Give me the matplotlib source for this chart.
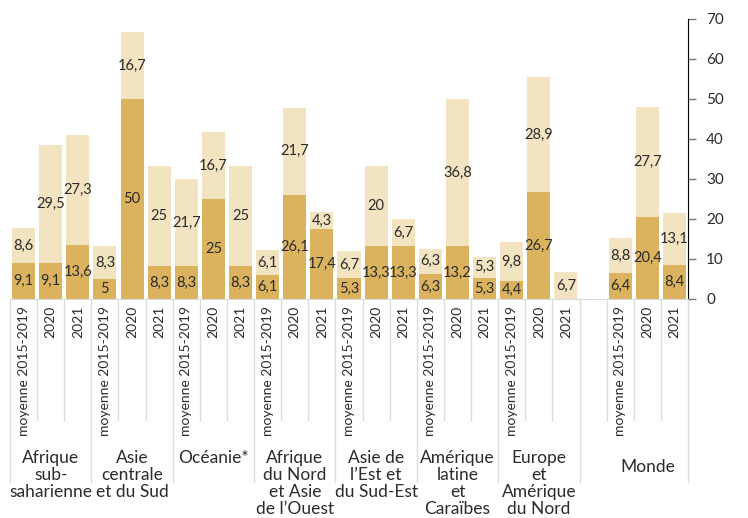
import numpy as np
import matplotlib
matplotlib.use("Agg")
import matplotlib.pyplot as plt
import matplotlib.transforms as mtransforms

##################################################################
########################## DATA ##################################
##################################################################

regions = ["Afrique\nsub-\nsaharienne", "Asie\ncentrale\net du Sud", "Océanie*",
           "Afrique\ndu Nord\net Asie\nde l\u2019Ouest", "Asie de\nl\u2019Est et\ndu Sud-Est",
           "Amérique\nlatine\net\nCaraïbes", "Europe\net\nAmérique\ndu Nord", "Monde"]
periods = ["moyenne 2015-2019", "2020", "2021"]

# dark (bottom) segment, per region: [moyenne, 2020, 2021]
dark_vals = [[9.1, 9.1, 13.6],
             [5, 50, 8.3],
             [8.3, 25, 8.3],
             [6.1, 26.1, 17.4],
             [5.3, 13.3, 13.3],
             [6.3, 13.2, 5.3],
             [4.4, 26.7, 0],
             [6.4, 20.4, 8.4]]
# light (top) segment
light_vals = [[8.6, 29.5, 27.3],
              [8.3, 16.7, 25],
              [21.7, 16.7, 25],
              [6.1, 21.7, 4.3],
              [6.7, 20, 6.7],
              [6.3, 36.8, 5.3],
              [9.8, 28.9, 6.7],
              [8.8, 27.7, 13.1]]

DARK = "#DBB35E"
LIGHT = "#F2E3C1"
TXT = "#2b2b2b"
SEP = "#dcdcdc"
plt.rcParams['font.family'] = ['Lato', 'DejaVu Sans']


def fmt(v):
    if float(v).is_integer():
        return str(int(v))
    return ("%.1f" % v).replace(".", ",")


##################################################################
########################## LAYOUT ################################
##################################################################

# 7 regions back to back, one empty slot, then Monde
slots = []
for g in range(len(regions)):
    start = g * 3 if g < 7 else 22
    slots.append([start, start + 1, start + 2])

fig = plt.figure(figsize=(7.48, 5.18), dpi=100)
W, H = 748, 518
ax_l, ax_r, ax_t, ax_b = 10, 688, 19, 299
ax = fig.add_axes([ax_l / W, (H - ax_b) / H, (ax_r - ax_l) / W, (ax_b - ax_t) / H])

xs, labels = [], []
for g in range(len(regions)):
    x = np.array(slots[g])
    d = np.array(dark_vals[g])
    l = np.array(light_vals[g])
    ax.bar(x, d, width=0.85, color=DARK, zorder=2)
    ax.bar(x, l, width=0.85, bottom=d, color=LIGHT, zorder=2)
    for xi, di, li in zip(x, d, l):
        if di > 0:
            ax.text(xi, di / 2, fmt(di), ha="center", va="center", fontsize=10.5, color=TXT, zorder=3)
        if li > 0:
            ax.text(xi, di + li / 2, fmt(li), ha="center", va="center", fontsize=10.5, color=TXT, zorder=3)
    xs.extend(x)
    labels.extend(periods)

ax.set_xlim(-0.5, 24.5)
ax.set_ylim(0, 70)

# right axis
ax.yaxis.tick_right()
ax.set_yticks(np.arange(0, 71, 10))
ax.tick_params(axis="y", direction="out", length=6, width=1, color="#777777",
               labelsize=11, labelcolor=TXT, pad=7)
for s in ["top", "left"]:
    ax.spines[s].set_visible(False)
ax.spines["right"].set_color("black")
ax.spines["bottom"].set_color(SEP)

ax.set_xticks(xs)
ax.set_xticklabels(labels, rotation=90, ha="center", va="top", fontsize=10, color=TXT)
ax.tick_params(axis="x", length=0, pad=5)

# separators below the axis
trans = mtransforms.blended_transform_factory(ax.transData, ax.transAxes)
h = ax_b - ax_t
short_y = -(420 - ax_b) / h
long_y = -(482 - ax_b) / h
group_edges = [-0.5, 2.5, 5.5, 8.5, 11.5, 14.5, 17.5, 20.5, 24.5]
for b in np.arange(-0.5, 25, 1.0):
    y2 = long_y if b in group_edges else short_y
    ax.plot([b, b], [0, y2], color=SEP, lw=1, transform=trans, clip_on=False, zorder=1)

# group names
for g, name in enumerate(regions):
    cx = np.mean(slots[g])
    if name == "Monde":
        ax.text(cx, -(467 - ax_b) / h, name, transform=trans, ha="center", va="center",
                fontsize=12.5, color=TXT)
    else:
        ax.text(cx, -(450 - ax_b) / h, name, transform=trans, ha="center", va="top",
                fontsize=12.5, color=TXT, linespacing=1.08)

fig.savefig("out.png", dpi=100)
